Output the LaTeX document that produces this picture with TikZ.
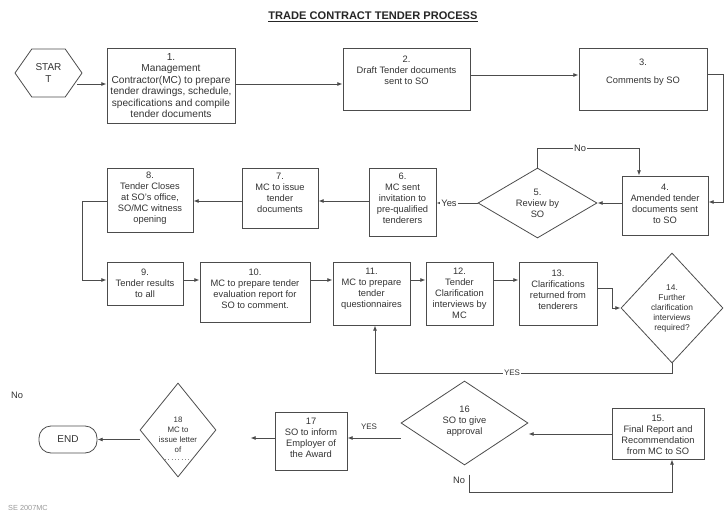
\documentclass[tikz,border=0pt]{standalone}
\usepackage{fontspec}
\setmainfont{Liberation Sans}
\usetikzlibrary{arrows.meta,shapes.geometric,shapes.symbols}
\begin{document}
\begin{tikzpicture}[x=0.75pt,y=-0.75pt,
  sz/.style 2 args={minimum width=#1*0.75pt, minimum height=#2*0.75pt},
  box/.style={draw=black!70, line width=0.6pt, rectangle, inner sep=0pt},
  dia/.style={draw=black!70, line width=0.6pt, diamond, inner sep=0pt},
  txt/.style={font=\fontsize{7}{8.3}\selectfont, align=center, text=black!80, inner sep=0pt},
  btxt/.style={font=\fontsize{7.6}{8.6}\selectfont, align=center, text=black!80, inner sep=0pt},
  stxt/.style={font=\fontsize{6.3}{7.5}\selectfont, align=center, text=black!80, inner sep=0pt},
  xtxt/.style={font=\fontsize{5.9}{7.6}\selectfont, align=center, text=black!80, inner sep=0pt},
  arr/.style={draw=black!70, line width=0.6pt, -{Latex[length=4pt,width=3pt]}},
  ln/.style={draw=black!70, line width=0.6pt},
  lbl/.style={font=\fontsize{7}{8}\selectfont, text=black!80, fill=white, inner sep=1pt},
  slbl/.style={font=\fontsize{6}{7}\selectfont, text=black!80, fill=white, inner sep=1pt},
]
\useasboundingbox (0,0) rectangle (724,513);

% title
\node[font=\bfseries\fontsize{8.3}{10}\selectfont, text=black!85] (title) at (373,17) {\underline{TRADE CONTRACT TENDER PROCESS}};

% terminals
\node[draw=black!70, line width=0.6pt, signal, signal to=west and east, signal pointer angle=110,
      sz={67}{48}, inner sep=0pt, font=\fontsize{7.5}{8.5}\selectfont, align=center, text=black!80] (start) at (48.5,73) {STAR\\T};
\node[draw=black!70, line width=0.6pt, rounded corners=9pt, sz={58}{27}, inner sep=0pt,
      font=\fontsize{7.5}{8.5}\selectfont, text=black!80] (end) at (68,439.5) {END};

% row 1
\node[box,sz={128}{75},label={[btxt]center:{1.\\Management\\Contractor(MC) to prepare\\tender drawings, schedule,\\specifications and compile\\tender documents}}] (b1) at (171,85.5) {};
\node[box,sz={127}{62},label={[txt,yshift=6.75pt]center:{2.\\Draft Tender documents\\sent to SO}}] (b2) at (406.5,79) {};
\node[box,sz={128}{62},label={[txt,yshift=4.9pt]center:{3.\\[5pt]Comments by SO}}] (b3) at (643,79) {};

% row 2
\node[box,sz={86}{59},label={[txt,yshift=1.5pt]center:{4.\\Amended tender\\documents sent\\to SO}}] (b4) at (665,205.5) {};
\node[dia,sz={119}{70},label={[txt]center:{5.\\Review by\\SO}}] (d5) at (537.5,203) {};
\node[box,sz={67}{68},label={[txt,yshift=2.6pt]center:{6.\\MC sent\\invitation to\\pre-qualified\\tenderers}}] (b6) at (402.5,202) {};
\node[box,sz={76}{60},label={[txt,yshift=3.75pt]center:{7.\\MC to issue\\tender\\documents}}] (b7) at (280,198) {};
\node[box,sz={86}{64},label={[txt,yshift=1.5pt]center:{8.\\Tender Closes\\at SO's office,\\SO/MC witness\\opening}}] (b8) at (150,200) {};

% row 3
\node[box,sz={76}{43},label={[txt]center:{9.\\Tender results\\to all}}] (b9) at (145,283.5) {};
\node[box,sz={110}{60},label={[txt,yshift=2.6pt]center:{10.\\MC to prepare tender\\evaluation report for\\SO to comment.}}] (b10) at (255,292) {};
\node[box,sz={77}{63},label={[txt,yshift=3.4pt]center:{11.\\MC to prepare\\tender\\questionnaires}}] (b11) at (371.5,293.5) {};
\node[box,sz={67}{63},label={[txt]center:{12.\\Tender\\Clarification\\interviews by\\MC}}] (b12) at (459.5,293.5) {};
\node[box,sz={78}{63},label={[txt,yshift=3pt]center:{13.\\Clarifications\\returned from\\tenderers}}] (b13) at (558,293.5) {};
\node[dia,sz={102}{110},label={[stxt]center:{14.\\Further\\clarification\\interviews\\required?}}] (d14) at (672,308) {};

% row 4
\node[box,sz={92}{51},label={[txt,yshift=-1pt]center:{15.\\Final Report and\\Recommendation\\from MC to SO}}] (b15) at (658,433.5) {};
\node[dia,sz={127}{84},label={[txt,yshift=1.5pt]center:{16\\SO to give\\approval}}] (d16) at (464.5,423) {};
\node[box,sz={72}{58},label={[txt,yshift=2.25pt]center:{17\\SO to inform\\Employer of\\the Award}}] (b17) at (311,441) {};
\node[dia,sz={76}{94},label={[xtxt,yshift=-3.4pt]center:{18\\MC to\\issue letter\\of}}] (d18) at (178,430) {};
\draw[black!45, dotted, line width=0.5pt] (165,459) -- (192,459);

% connectors
\draw[arr] (start.east |- 0,84) ++(-5,0) -- (b1.west |- 0,84);
\draw[arr] (b1.east |- 0,84) -- (b2.west |- 0,84);
\draw[arr] (b2.east |- 0,75) -- (b3.west |- 0,75);
\draw[arr] (b3.east |- 0,74) -- (723,74) |- (b4.east |- 0,202);
\draw[arr] (b4.west |- d5.east) -- (d5.east);
\draw[arr] (d5.north) -- (d5.north |- 0,148) -| (b4.north -| 639,0);
\draw[arr] (d5.west) -- (b6.east |- d5.west);
\draw[arr] (b6.west |- 0,201) -- (b7.east |- 0,201);
\draw[arr] (b7.west |- 0,201) -- (b8.east |- 0,201);
\draw[arr] (b8.west |- 0,201) -| (82,280) -- (b9.west |- 0,280);
\draw[arr] (b9.east |- 0,280) -- (b10.west |- 0,280);
\draw[arr] (b10.east |- 0,280) -- (b11.west |- 0,280);
\draw[arr] (b11.east |- 0,280) -- (b12.west |- 0,280);
\draw[arr] (b12.east |- 0,280) -- (b13.west |- 0,280);
\draw[arr] (b13.east |- 0,288) -- (612,288) |- (d14.west);
\draw[arr] (d14.south) |- (375,373) -- (b11.south -| 375,0);
\draw[arr] (b15.west |- 0,434) -- (d16.east |- 0,434);
\draw[arr, shorten <=7pt] (d16.south -| 469,0) |- (672,492) -- (b15.south -| 672,0);
\draw[arr] (d16.west |- 0,438) -- (b17.east |- 0,438);
\draw[arr, shorten >=25.5pt] (b17.west |- 0,438) -- (d18.east |- 0,438);
\draw[arr] (d18.west |- end.east) -- (end.east);

% labels
\node[lbl] (no1) at (580,148) {No};
\node[lbl] (yes1) at (449,203) {Yes};
\node[slbl] (yes2) at (512,373) {YES};
\node[slbl] (yes3) at (369,427) {YES};
\node[font=\fontsize{7}{8}\selectfont, text=black!80, inner sep=0pt] (no2) at (459,480) {No};
\node[font=\fontsize{7}{8}\selectfont, text=black!80, inner sep=0pt] (no3) at (17,395) {No};
\node[font=\fontsize{5.5}{6}\selectfont, text=black!40, inner sep=0pt] (foot) at (28,508) {SE 2007MC};
\end{tikzpicture}
\end{document}
